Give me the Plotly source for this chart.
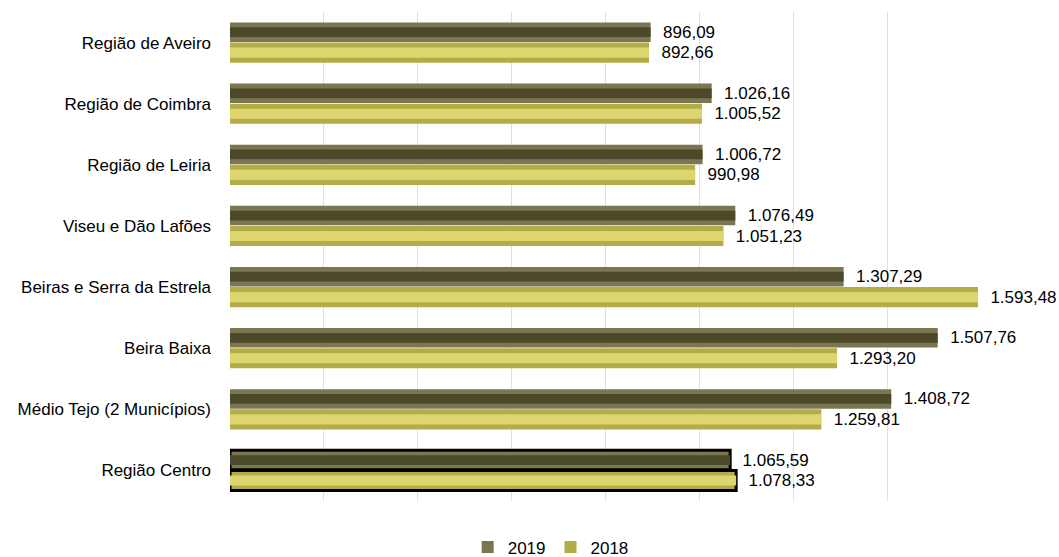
import plotly.graph_objects as go

categories = ["Região de Aveiro", "Região de Coimbra", "Região de Leiria", "Viseu e Dão Lafões",
              "Beiras e Serra da Estrela", "Beira Baixa", "Médio Tejo (2 Municípios)", "Região Centro"]
values_2019 = [896.09, 1026.16, 1006.72, 1076.49, 1307.29, 1507.76, 1408.72, 1065.59]
values_2018 = [892.66, 1005.52, 990.98, 1051.23, 1593.48, 1293.20, 1259.81, 1078.33]
series_names = ["2019", "2018"]


def pt(v):
    s = f"{v:,.2f}"
    return "\u00a0\u00a0" + s.replace(",", "X").replace(".", ",").replace("X", ".")


FONT = "Liberation Sans, Arial, sans-serif"
border_w = [3 if c == "Região Centro" else 0 for c in categories]

fig = go.Figure()

specs = [
    (series_names[0], values_2019, -0.33, 0.32, "#7a7651", "#4c492b"),
    (series_names[1], values_2018, 0.0, 0.33, "#b4ac48", "#ddd56e"),
]

for name, vals, off, w, base_col, inner_col in specs:
    fig.add_trace(go.Bar(
        y=categories, x=vals, orientation="h", name=name,
        offset=off, width=w,
        marker=dict(color=base_col, line=dict(color="black", width=border_w)),
        text=[pt(v) for v in vals], textposition="outside",
        textfont=dict(family=FONT, size=17, color="#000000"),
        constraintext="none", cliponaxis=False,
    ))
    fig.add_trace(go.Bar(
        y=categories, x=vals, orientation="h", name=name,
        offset=off + w * 0.25, width=w * 0.5,
        marker=dict(color=inner_col, line=dict(width=0)),
        showlegend=False, hoverinfo="skip",
    ))

fig.update_layout(
    width=1059, height=557,
    barmode="overlay",
    paper_bgcolor="white", plot_bgcolor="white",
    margin=dict(l=230, r=78, t=12, b=56, autoexpand=False),
    font=dict(family=FONT, size=17, color="#000000"),
    xaxis=dict(range=[0, 1600], dtick=200, showticklabels=False, showgrid=True,
               gridcolor="#dcdfe6", gridwidth=1, zeroline=False, showline=False, ticks="",
               automargin=False),
    yaxis=dict(range=[7.5, -0.5], showgrid=False, ticks="", showline=False, automargin=False,
               tickfont=dict(family=FONT, size=17, color="#000000"), ticklabelstandoff=18),
    legend=dict(orientation="h", x=0.427, xanchor="center", y=-0.095, yanchor="middle",
                font=dict(family=FONT, size=17, color="#000000"), traceorder="normal",
                itemwidth=30),
    showlegend=True,
)

fig.write_html("out.html", config={"displayModeBar": False},
               post_script="document.body.style.margin='0';")
